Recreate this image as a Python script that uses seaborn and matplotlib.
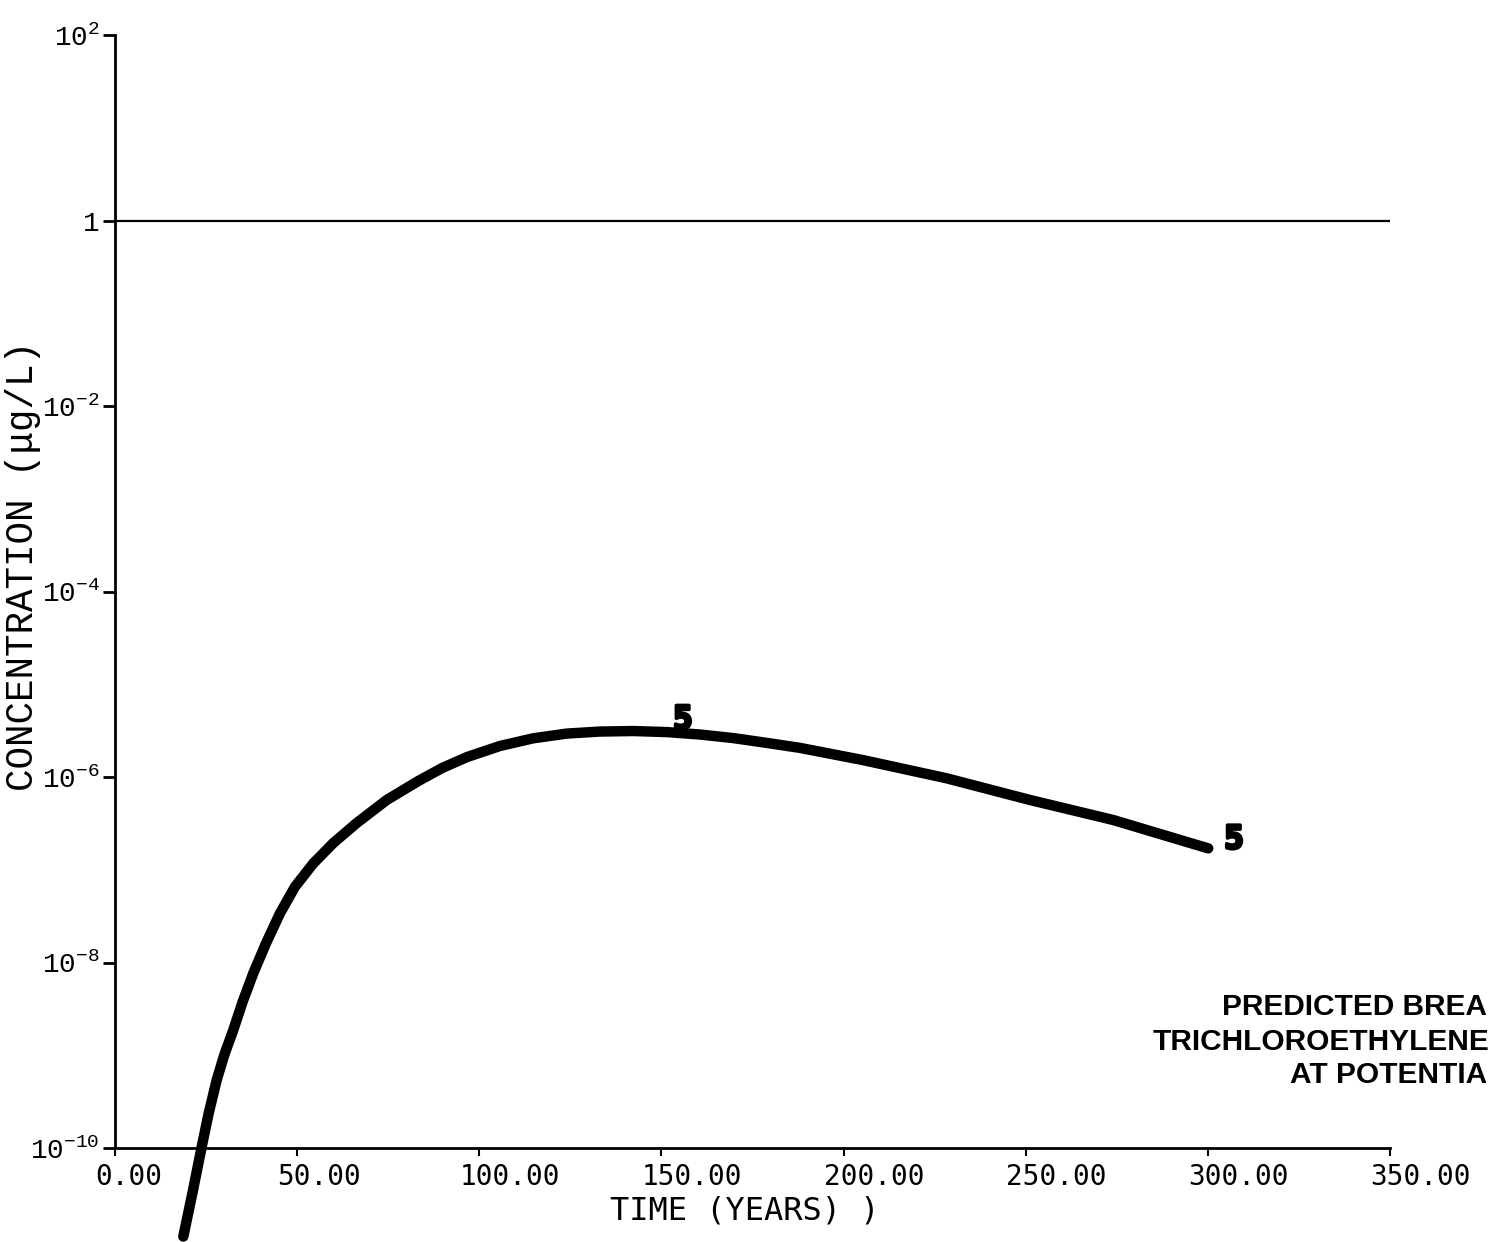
import matplotlib
matplotlib.use("Agg")
import matplotlib.pyplot as plt
import matplotlib.ticker as mticker
import matplotlib.transforms as mtransforms
import matplotlib.patheffects as pe
import pandas as pd
import seaborn as sns

# Predicted breakthrough curve 5 (time in years, concentration in ug/L)
time_years = [18.75, 21.33, 23.80, 25.72, 27.92, 30.00, 32.47, 35.05, 37.96, 41.45,
              45.29, 49.41, 54.43, 59.92, 66.35, 74.58, 83.26, 89.8, 96.62, 105.68,
              114.74, 124.07, 133.13, 142.19, 151.52, 160.58, 169.64, 178.97, 188.03, 205.4,
              228.3, 251.2, 274.0, 300.1]
concentration = [1.11e-11, 3.38e-11, 1.03e-10, 2.37e-10, 5.41e-10, 1.01e-9, 1.87e-9, 3.78e-9, 7.66e-9, 1.61e-8,
                 3.39e-8, 6.56e-8, 1.17e-7, 1.94e-7, 3.19e-7, 5.65e-7, 9.05e-7, 1.25e-6, 1.64e-6, 2.16e-6,
                 2.61e-6, 2.94e-6, 3.09e-6, 3.13e-6, 3.05e-6, 2.87e-6, 2.63e-6, 2.33e-6, 2.06e-6, 1.52e-6,
                 9.68e-7, 5.65e-7, 3.44e-7, 1.70e-7]

# Reference level drawn across the plot
reference_level = 1.0

# Curve identifier labels
curve_label = "5"
curve_label_time = [155.9, 307.2]
curve_label_conc = [4.1e-6, 2.1e-7]

x_ticks = [0, 50, 100, 150, 200, 250, 300, 350]
x_tick_labels = ["0.00", "50.00", "100.00", "150.00", "200.00", "250.00", "300.00", "350.00"]
y_ticks = [1e-10, 1e-8, 1e-6, 1e-4, 1e-2, 1, 1e2]
y_tick_labels = [r"$\mathregular{10^{-10}}$", r"$\mathregular{10^{-8}}$", r"$\mathregular{10^{-6}}$",
                 r"$\mathregular{10^{-4}}$", r"$\mathregular{10^{-2}}$", r"$\mathregular{1}$",
                 r"$\mathregular{10^{2}}$"]

title_lines = ["PREDICTED BREA", "TRICHLOROETHYLENE", "AT POTENTIA"]

sns.set_style("ticks")
plt.rcParams["font.family"] = ["Liberation Mono", "DejaVu Sans"]
plt.rcParams["mathtext.fontset"] = "custom"
plt.rcParams["mathtext.rm"] = "Liberation Mono"
plt.rcParams["mathtext.it"] = "Liberation Mono"
plt.rcParams["mathtext.bf"] = "Liberation Mono:bold"
for key in ["text.color", "axes.labelcolor", "xtick.color", "ytick.color", "axes.edgecolor"]:
    plt.rcParams[key] = "black"

df = pd.DataFrame({"time": time_years, "conc": concentration})

fig = plt.figure(figsize=(14.91, 12.42), dpi=100)
ax = fig.add_axes([115 / 1491, 1 - 1148 / 1242, (1390 - 115) / 1491, (1148 - 35) / 1242])

sns.lineplot(data=df, x="time", y="conc", ax=ax, color="black", linewidth=7.5,
             solid_capstyle="round", solid_joinstyle="round", clip_on=False, zorder=3)
ax.axhline(reference_level, color="black", linewidth=1.6, zorder=2)

ax.set_yscale("log")
ax.set_xlim(0, 350)
ax.set_ylim(1e-10, 1e2)

for sp in ["top", "right"]:
    ax.spines[sp].set_visible(False)
for sp in ["left", "bottom"]:
    ax.spines[sp].set_linewidth(2.0)

ax.yaxis.set_major_locator(mticker.FixedLocator(y_ticks))
ax.yaxis.set_major_formatter(mticker.FixedFormatter(y_tick_labels))
ax.yaxis.set_minor_locator(mticker.NullLocator())
ax.set_xticks(x_ticks)
ax.set_xticklabels(x_tick_labels, fontfamily="DejaVu Sans Mono", fontsize=20)

ax.tick_params(axis="y", direction="out", length=9, width=2, pad=2, labelsize=20)
ax.tick_params(axis="x", direction="out", length=6, width=1.5, pad=5)

# left-align the time labels slightly before each tick
offset = mtransforms.ScaledTranslation(-0.2, 0, fig.dpi_scale_trans)
for lab in ax.get_xticklabels():
    lab.set_horizontalalignment("left")
    lab.set_transform(lab.get_transform() + offset)

ax.set_xlabel("")
ax.set_ylabel("")
fig.text(745 / 1491, 1 - 1220 / 1242, "TIME (YEARS) )", ha="center", va="baseline",
         fontfamily="DejaVu Sans Mono", fontsize=23)
fig.text(23 / 1491, 1 - 566 / 1242, "CONCENTRATION (\u03bcg/L)", rotation=90,
         ha="center", va="center", fontfamily="Liberation Mono", fontsize=27)

for tx, ty in zip(curve_label_time, curve_label_conc):
    ax.text(tx, ty, curve_label, ha="center", va="center", fontsize=23,
            fontweight="bold", fontfamily="DejaVu Sans Mono", zorder=4,
            path_effects=[pe.withStroke(linewidth=2.5, foreground="black")])

line_x = [1222, 1153, 1290]
line_y = [1007, 1042, 1075]
for txt, px, py in zip(title_lines, line_x, line_y):
    fig.text(px / 1491, 1 - py / 1242, txt, ha="left", va="center",
             fontfamily="Liberation Sans", fontweight="bold", fontsize=21.5)

fig.savefig("out.png", dpi=100, facecolor="white")
